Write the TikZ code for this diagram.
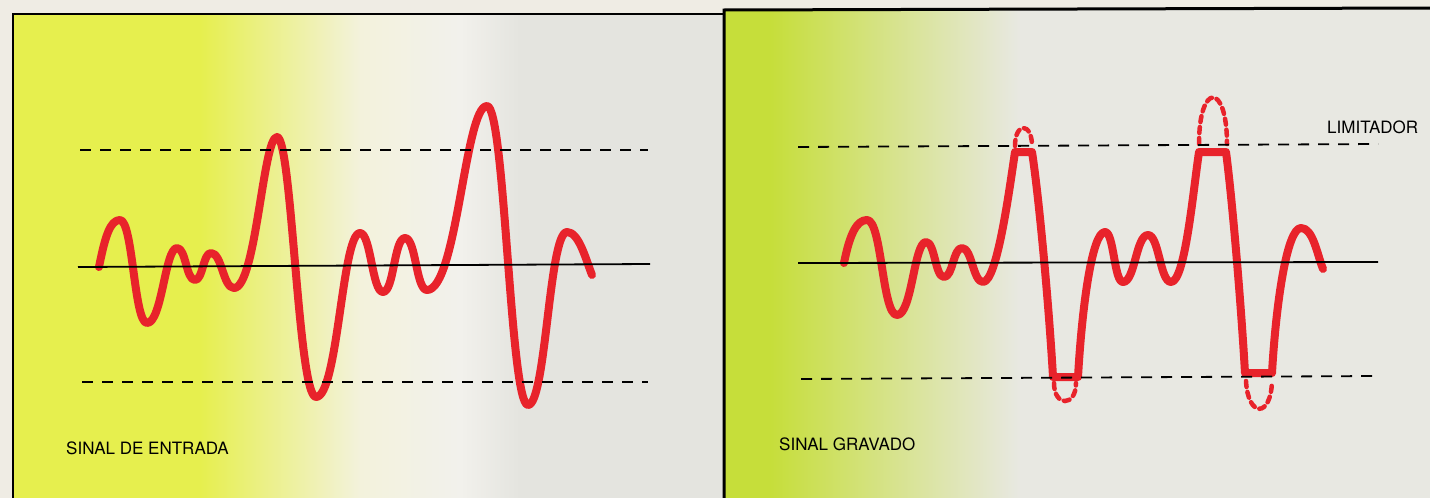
\documentclass[tikz,border=0pt]{standalone}
\usepackage{fontspec}
\setmainfont{TeX Gyre Heros}
\usepackage{xcolor}
\usepackage{tikz}
\usetikzlibrary{positioning}

\definecolor{sigred}{HTML}{E8232B}
\definecolor{bgyellow}{HTML}{E6EF4E}
\definecolor{bggreen}{HTML}{C6DE3A}
\definecolor{bgcream}{HTML}{F3F2DC}
\definecolor{bgwhite}{HTML}{F2F1EC}
\definecolor{bggray}{HTML}{E4E4DF}
\definecolor{bglight}{HTML}{E8E8E2}
\definecolor{paper}{HTML}{EFECE4}

\begin{document}
\begin{tikzpicture}[x=1pt, y=-1pt,
        signal/.style={line width=8pt, color=sigred, line join=round, line cap=round},
        overshoot/.style={line width=4.5pt, color=sigred, dash pattern=on 6pt off 5pt, line cap=round},
        zero/.style={line width=1.8pt, black},
        limit/.style={line width=1.8pt, black, dash pattern=on 11pt off 9pt},
        caption/.style={font=\fontsize{17}{20}\selectfont, inner sep=0pt, anchor=base west}]
        \useasboundingbox (0,0) rectangle (1430,498);
        \fill[paper] (0,0) rectangle (1430,498);

        % backgrounds
        \fill[bgyellow] (13,14) rectangle (200,498);
        \fill[left color=bgyellow, right color=bgcream] (200,14) rectangle (360,498);
        \fill[left color=bgcream, right color=bgwhite] (360,14) rectangle (460,498);
        \fill[left color=bgwhite, right color=bggray] (460,14) rectangle (520,498);
        \fill[bggray] (520,14) rectangle (724,498);
        \fill[bggreen] (724,10) rectangle (770,498);
        \fill[left color=bggreen, right color=bglight] (770,10) rectangle (1020,498);
        \fill[bglight] (1020,10) rectangle (1430,498);

        % input signal
        \draw[signal] (99,267) .. controls +(6,-30) and +(-10,0) .. (120,220)
              .. controls +(13,0) and +(-13,0) .. (147,323)
              .. controls +(15,0) and +(-12,0) .. (177,248)
              .. controls +(9,0) and +(-9,0) .. (195,280)
              .. controls +(8,0) and +(-8,0) .. (211,253)
              .. controls +(11,0) and +(-11,0) .. (234,288)
              .. controls +(22,0) and +(-14,0) .. (277,137)
              .. controls +(15,0) and +(-18,0) .. (316,397)
              .. controls +(22,0) and +(-18,0) .. (360,233)
              .. controls +(11,0) and +(-11,0) .. (383,292)
              .. controls +(11,0) and +(-11,0) .. (405,238)
              .. controls +(11,0) and +(-11,0) .. (427,290)
              .. controls +(30,0) and +(-22,0) .. (487,106)
              .. controls +(18,0) and +(-18,0) .. (528,405)
              .. controls +(18,0) and +(-18,0) .. (567,232)
              .. controls +(12,0) and +(-6,-15) .. (592,275);

        % recorded signal, clipped
        \draw[signal] (844,263) .. controls +(6,-30) and +(-10,0) .. (867,220)
              .. controls +(15,0) and +(-15,0) .. (897,315)
              .. controls +(15,0) and +(-12,0) .. (926,242)
              .. controls +(9,0) and +(-9,0) .. (944,277)
              .. controls +(9,0) and +(-9,0) .. (962,248)
              .. controls +(10,0) and +(-10,0) .. (983,282)
              .. controls +(14,0) and +(-6,40) .. (1015,152) -- (1032,152)
              .. controls +(7,45) and +(-4,-70) .. (1053,377) -- (1078,377)
              .. controls +(4,-70) and +(-13,0) .. (1105,232)
              .. controls +(9,0) and +(-9,0) .. (1123,282)
              .. controls +(12,0) and +(-12,0) .. (1148,235)
              .. controls +(11,0) and +(-11,0) .. (1171,282)
              .. controls +(14,0) and +(-6,40) .. (1199,152) -- (1226,152)
              .. controls +(6,45) and +(-4,-70) .. (1245,373) -- (1272,373)
              .. controls +(4,-70) and +(-14,0) .. (1301,228)
              .. controls +(12,0) and +(-6,-15) .. (1323,269);

        % cut-off peaks
        \draw[overshoot] (1015,146) .. controls (1015,122) and (1032,122) .. (1032,146);
        \draw[overshoot] (1199,144) .. controls (1199,82) and (1227,82) .. (1227,144);
        \draw[overshoot] (1054,383) .. controls (1054,407) and (1076,407) .. (1076,383);
        \draw[overshoot] (1246,381) .. controls (1248,418) and (1271,418) .. (1272,381);

        % reference lines
        \coordinate (zeroLa) at (78,267);
        \coordinate (zeroLb) at (650,264);
        \coordinate (topLa) at (80,150);
        \coordinate (topLb) at (648,150);
        \coordinate (botLa) at (82,382);
        \coordinate (botLb) at (648,382);
        \coordinate (zeroRa) at (798,263);
        \coordinate (zeroRb) at (1378,262);
        \coordinate (topRa) at (798,147);
        \coordinate (topRb) at (1378,144);
        \coordinate (botRa) at (801,379);
        \coordinate (botRb) at (1378,376);
        \draw[zero] (zeroLa) -- (zeroLb);
        \draw[limit] (topLa) -- (topLb);
        \draw[limit] (botLa) -- (botLb);
        \draw[zero] (zeroRa) -- (zeroRb);
        \draw[limit] (topRa) -- (topRb);
        \draw[limit] (botRa) -- (botRb);

        % frames
        \draw[line width=2.5pt] (13,498) -- (13,14) -- (724,14);
        \draw[line width=3pt] (724,498) -- (724,10) -- (1430,8);

        \node[caption] (entrada) at (66,454) {SINAL DE ENTRADA};
        \node[caption] (gravado) at (779,450) {SINAL GRAVADO};
        \node[caption] (limitador) at (1327,133) {LIMITADOR};
    \end{tikzpicture}
\end{document}
